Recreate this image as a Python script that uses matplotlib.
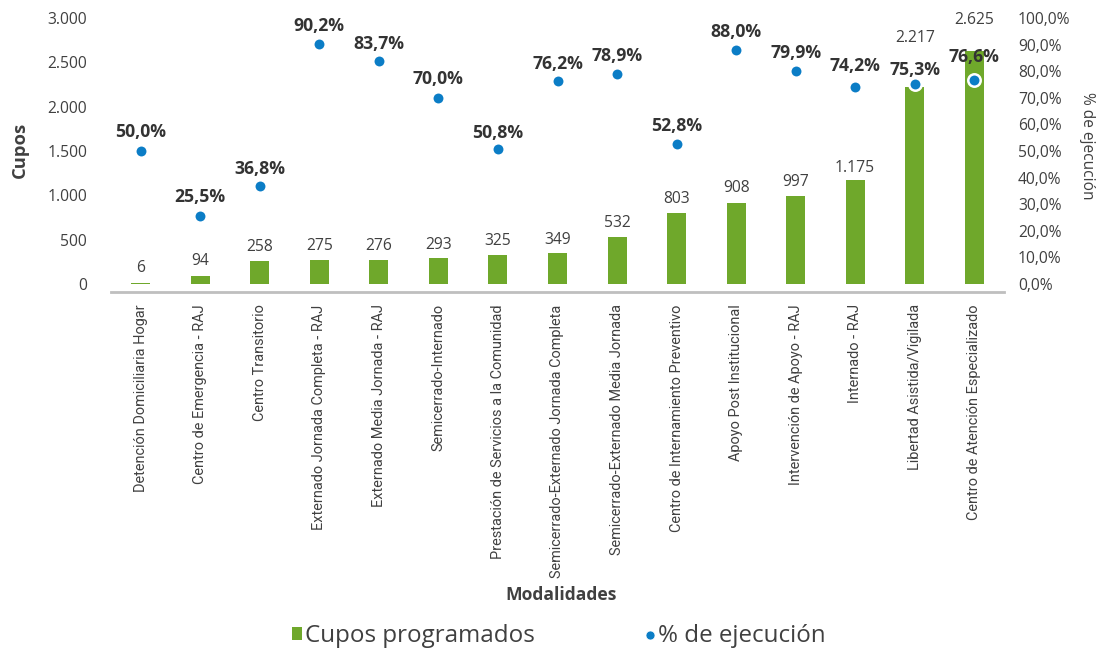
import matplotlib
matplotlib.use("Agg")
import matplotlib.pyplot as plt
from matplotlib.lines import Line2D
from matplotlib.patches import Patch

categories = [
    "Detención Domiciliaria Hogar",
    "Centro de Emergencia - RAJ",
    "Centro Transitorio",
    "Externado Jornada Completa - RAJ",
    "Externado Media Jornada - RAJ",
    "Semicerrado-Internado",
    "Prestación de Servicios a la Comunidad",
    "Semicerrado-Externado Jornada Completa",
    "Semicerrado-Externado Media Jornada",
    "Centro de Internamiento Preventivo",
    "Apoyo Post Institucional",
    "Intervención de Apoyo - RAJ",
    "Internado - RAJ",
    "Libertad Asistida/Vigilada",
    "Centro de Atención Especializado",
]
cupos = [6, 94, 258, 275, 276, 293, 325, 349, 532, 803, 908, 997, 1175, 2217, 2625]
ejecucion = [50.0, 25.5, 36.8, 90.2, 83.7, 70.0, 50.8, 76.2, 78.9, 52.8, 88.0, 79.9, 74.2, 75.3, 76.6]

left_ticks = [0, 500, 1000, 1500, 2000, 2500, 3000]
right_ticks = [0, 10, 20, 30, 40, 50, 60, 70, 80, 90, 100]

# label offsets in pixels (layout, not data)
bar_lbl_off = [15, 15, 14, 14, 14, 13, 14, 13, 14, 14, 15, 14, 12, 49, 31]
pct_lbl_off = [19, 19, 17, 18, 17, 19, 16, 17, 18, 18, 18, 18, 21, 14, 23]

GREEN = "#6fa82b"
BLUE = "#0b7dc6"
TXT = "#404040"
FONT = "Open Sans"
CATFONT = "Roboto"
PX = 72 / 100  # points per pixel


def fmt_int(v):
    return f"{v:,}".replace(",", ".")


def fmt_pct(v):
    return f"{v:.1f}%".replace(".", ",")


W, H = 1099, 651
fig = plt.figure(figsize=(W / 100, H / 100), dpi=100)
renderer = fig.canvas.get_renderer()


def fit(text, target_px, **kw):
    t = fig.text(0, 0, text, fontsize=10, **kw)
    w = t.get_window_extent(renderer).width
    t.remove()
    return 10 * target_px / w


fs_tick = fit("3.000", 40, family=FONT)
fs_pct = fit("75,3%", 51, family=FONT, fontweight="bold")
fs_cat = fit("Semicerrado-Externado Jornada Completa", 273, family=CATFONT)
fs_xlab = fit("Modalidades", 112, family=FONT, fontweight="bold")
fs_cupos = fit("Cupos", 56, family=FONT, fontweight="bold")
fs_rlab = fit("% de ejecución", 108, family=FONT)
fs_leg = fit("Cupos programados", 229, family=FONT)

ax = fig.add_axes([111 / W, 1 - 284 / H, (1004 - 111) / W, (284 - 18) / H])

x = list(range(len(categories)))
ax.bar(x, cupos, width=0.32, color=GREEN, zorder=2)
ax.set_xlim(-0.5, len(categories) - 0.5)
ax.set_ylim(0, 3000)
ax.set_xticks(x)
ax.set_xticklabels(categories)
ax.tick_params(axis="x", length=0, pad=12 * PX, labelrotation=90, labelsize=fs_cat,
               labelcolor=TXT, labelfontfamily=CATFONT)

ax2 = ax.twinx()
ax2.set_ylim(0, 100)
ax2.scatter(x, ejecucion, s=80, color=BLUE, edgecolor="white", linewidth=1.8, zorder=5)

for i, v in enumerate(cupos):
    ax.annotate(fmt_int(v), (i, v), xytext=(0, bar_lbl_off[i] * PX), textcoords="offset points",
                ha="center", va="center", fontsize=fs_tick, color=TXT, family=FONT)
for i, v in enumerate(ejecucion):
    ax2.annotate(fmt_pct(v), (i, v), xytext=(0, pct_lbl_off[i] * PX), textcoords="offset points",
                 ha="center", va="center", fontsize=fs_pct, color="#333333", family=FONT,
                 fontweight="bold")

ax.set_yticks(left_ticks)
ax.set_yticklabels([fmt_int(t) for t in left_ticks], family=FONT, fontsize=fs_tick, color=TXT)
ax2.set_yticks(right_ticks)
ax2.set_yticklabels([fmt_pct(t) for t in right_ticks], family=FONT, fontsize=fs_tick, color=TXT)
ax.tick_params(axis="y", length=0, pad=24 * PX)
ax2.tick_params(axis="y", length=0, pad=14 * PX)

for a in (ax, ax2):
    for s in ("left", "right", "top", "bottom"):
        a.spines[s].set_visible(False)
ax.spines["bottom"].set_visible(True)
ax.spines["bottom"].set_position(("outward", 6))
ax.spines["bottom"].set_color("#bfbfbf")
ax.spines["bottom"].set_linewidth(2)

fig.text(20 / W, 1 - 150 / H, "Cupos", rotation=90, ha="center", va="center", family=FONT,
         fontsize=fs_cupos, fontweight="bold", color=TXT)
fig.text(1087 / W, 1 - 146 / H, "% de ejecución", rotation=270, ha="center", va="center",
         family=FONT, fontsize=fs_rlab, color=TXT)
fig.text(561 / W, 1 - 595 / H, "Modalidades", ha="center", va="center", family=FONT,
         fontsize=fs_xlab, fontweight="bold", color=TXT)

leg_px = fs_leg / PX
handles = [
    Patch(facecolor=GREEN, edgecolor="none", label="Cupos programados"),
    Line2D([], [], marker="o", linestyle="none", markersize=9 * PX, markerfacecolor=BLUE,
           markeredgecolor="white", markeredgewidth=0.5, label="% de ejecución"),
]
leg = fig.legend(handles=handles, loc="center", bbox_to_anchor=(559 / W, 1 - 636 / H), ncol=2,
                 frameon=False, prop={"family": FONT, "size": fs_leg},
                 handlelength=10 / leg_px, handleheight=10 / leg_px,
                 handletextpad=3 / leg_px, columnspacing=110 / leg_px, borderpad=0)
for t in leg.get_texts():
    t.set_color(TXT)

fig.savefig("out.png", dpi=100)
